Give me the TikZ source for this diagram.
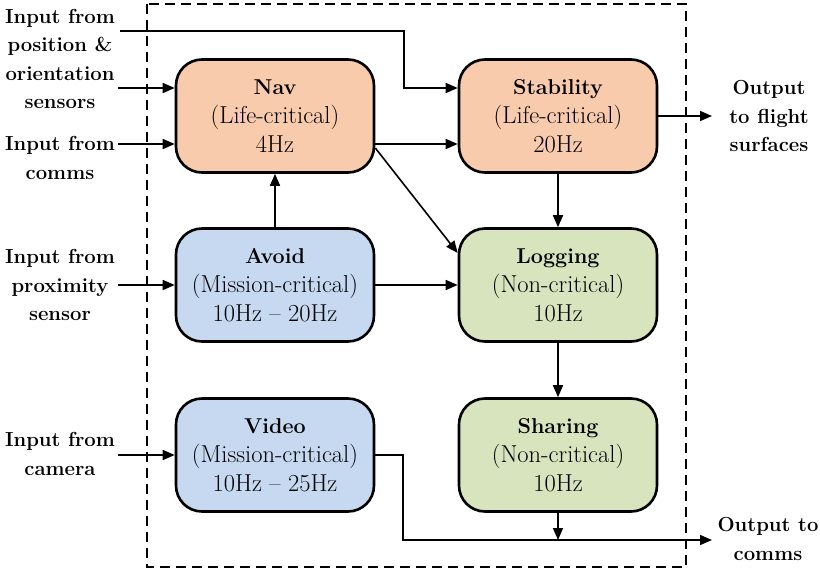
\documentclass[tikz,border=0pt]{standalone}
\usetikzlibrary{arrows.meta,calc}
\definecolor{peach}{RGB}{248,203,173}
\definecolor{lblue}{RGB}{198,217,241}
\definecolor{lgreen}{RGB}{215,228,189}
\newcommand{\boxtitle}[1]{{\fontsize{21.5}{29}\selectfont\bfseries #1}}
\begin{document}
\begin{tikzpicture}[x=1pt,y=-1pt,
  box/.style={draw, line width=2.6pt, rounded corners=26pt, minimum width=198pt, minimum height=113pt,
    align=center, inner sep=0pt, font=\fontsize{24.5}{29}\selectfont},
  lbl/.style={align=center, inner sep=0pt, font=\fontsize{20.3}{28.3}\selectfont\bfseries},
  arr/.style={line width=1.6pt, -{Triangle[length=12pt,width=10pt]}}]
\useasboundingbox (0,0) rectangle (820,571);
\draw[line width=1.5pt, dash pattern=on 10pt off 6pt] (147,4) rectangle (686,567);
% boxes
\node[box, fill=peach] (nav) at (275,116) {\boxtitle{Nav}\\(Life-critical)\\4Hz};
\node[box, fill=peach] (stab) at (558,116) {\boxtitle{Stability}\\(Life-critical)\\20Hz};
\node[box, fill=lblue] (avoid) at (275,285) {\boxtitle{Avoid}\\(Mission-critical)\\10Hz -- 20Hz};
\node[box, fill=lgreen] (log) at (558,285) {\boxtitle{Logging}\\(Non-critical)\\10Hz};
\node[box, fill=lblue] (video) at (275,455) {\boxtitle{Video}\\(Mission-critical)\\10Hz -- 25Hz};
\node[box, fill=lgreen] (share) at (558,455) {\boxtitle{Sharing}\\(Non-critical)\\10Hz};
% labels
\node[lbl] (l1) at (60,59) {Input from\\position \&\\orientation\\sensors};
\node[lbl] (l2) at (60,158) {Input from\\comms};
\node[lbl] (l3) at (60,285) {Input from\\proximity\\sensor};
\node[lbl] (l4) at (60,454) {Input from\\camera};
\node[lbl] (r1) at (769,116) {Output\\to flight\\surfaces};
\node[lbl] (r2) at (768,539) {Output to\\comms};
% coordinates
\coordinate (p1) at (120,31);
\coordinate (b1) at (404,31);
\coordinate (p2) at (118,88);
\coordinate (p3) at (118,144);
\coordinate (p4) at (118,285);
\coordinate (p5) at (118,455);
\coordinate (o1) at (712,116);
\coordinate (b2) at (403,540);
\coordinate (o2) at (712,540);
% connectors
\draw[arr] (p1) -- (b1) |- ([yshift=28pt]stab.west);
\draw[arr] (p2) -- (p2 -| nav.west);
\draw[arr] (p3) -- (p3 -| nav.west);
\draw[arr] ([yshift=-28pt]nav.east) -- ([yshift=-28pt]stab.west);
\draw[arr] ([yshift=-32pt]nav.east) -- ([yshift=32pt]log.west);
\draw[arr] (stab.east) -- (o1);
\draw[arr] (stab.south) -- (log.north);
\draw[arr] (avoid.north) -- (nav.south);
\draw[arr] (p4) -- (avoid.west);
\draw[arr] (avoid.east) -- (log.west);
\draw[arr] (log.south) -- (share.north);
\draw[arr] (p5) -- (video.west);
\draw[arr] (video.east) -| (b2) -- (o2);
\draw[arr] (share.south) -- (share.south |- o2);
\end{tikzpicture}
\end{document}
